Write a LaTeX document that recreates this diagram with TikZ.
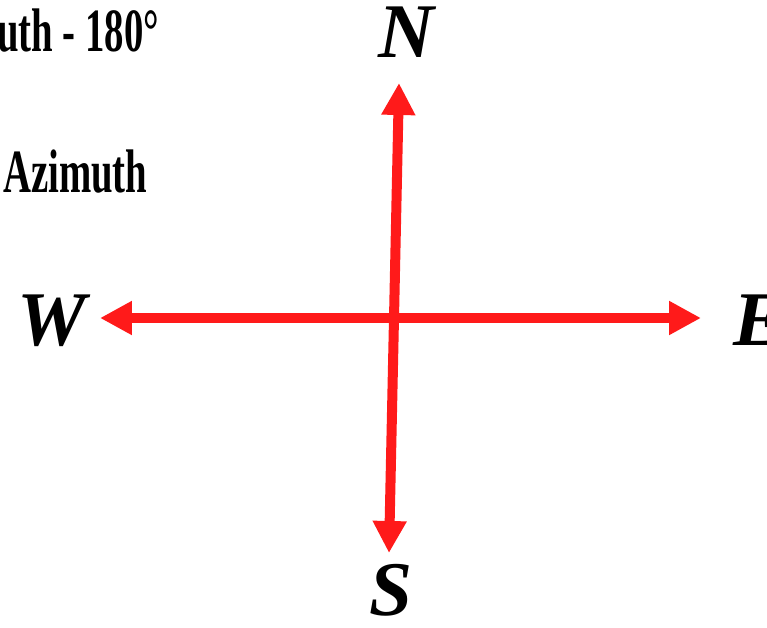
\documentclass[tikz,border=0pt]{standalone}
\usepackage{fontspec}
\setmainfont{Liberation Serif}
\usetikzlibrary{arrows.meta}
\definecolor{needle}{HTML}{FF1A1A}

\begin{document}
\begin{tikzpicture}[x=0.02cm,y=-0.02cm,
  axis/.style={needle,line width=0.2cm,
    {Triangle[length=0.64cm,width=0.64cm]}-{Triangle[length=0.64cm,width=0.64cm]}},
  dirlabel/.style={inner sep=0,anchor=base west,
    font=\fontsize{44}{44}\selectfont\bfseries\itshape},
  note/.style={inner sep=0,anchor=base west,xscale=0.63,
    font=\fontsize{35}{35}\selectfont\bfseries}]
\useasboundingbox (0,0) rectangle (767,628);
% partial heading from the left
\node[note] (back) at (-3,52) {uth - 180°};
\node[note] (azim) at (3,193) {Azimuth};
% arrow ends of the cross
\coordinate (ntip) at (399,83);
\coordinate (stip) at (389,553);
\coordinate (wtip) at (100,318);
\coordinate (etip) at (701,318);
\draw[axis] (wtip) -- (etip);
\draw[axis] (ntip) -- (stip);
% cardinal points
\node[dirlabel] (N) at (378,58) {N};
\node[dirlabel] (S) at (369,615) {S};
\node[dirlabel] (W) at (17,345) {W};
\node[dirlabel] (E) at (733,345) {E};
\end{tikzpicture}
\end{document}
